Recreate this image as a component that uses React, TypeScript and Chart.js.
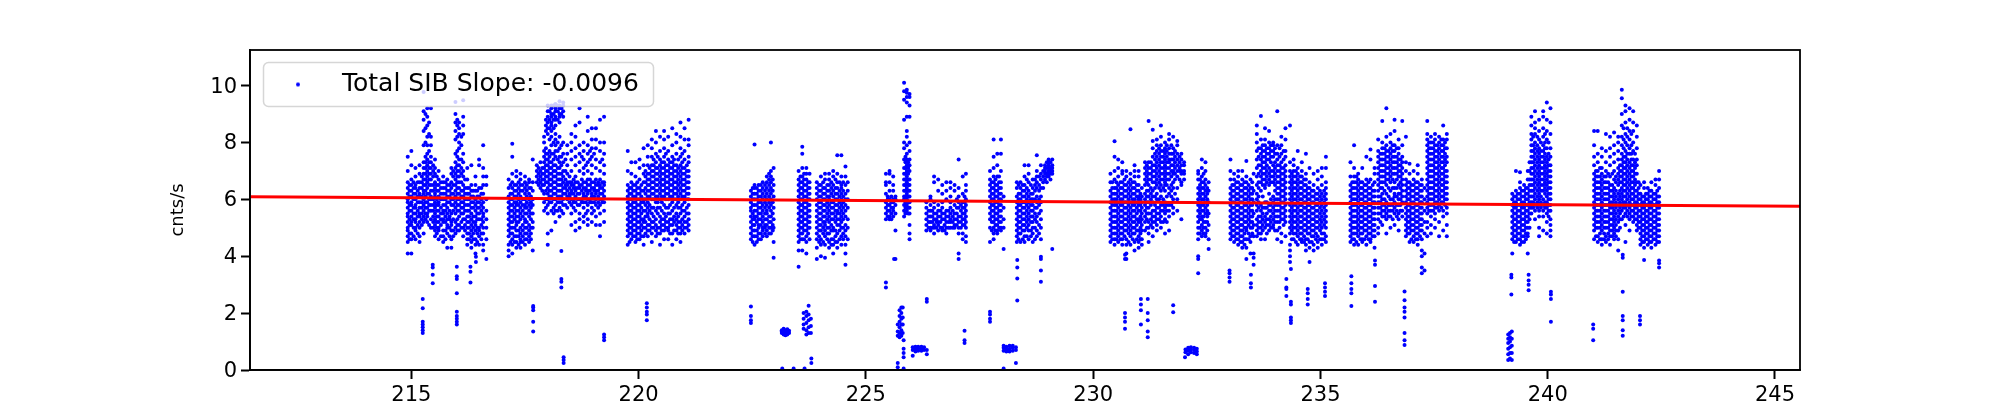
import React, { useEffect, useRef } from "react";
import { Chart, registerables } from "chart.js";

Chart.register(...registerables);

type Col = [number, number[]];

const seriesLabel = "Total SIB Slope: -0.0096";
const yTitle = "cnts/s";
const xTicks = [215, 220, 225, 230, 235, 240, 245];
const yTicks = [0, 2, 4, 6, 8, 10];
const fitX = [211.45, 245.55];
const fitY = [6.09, 5.76];

const obsA: Col[] = [
  [214.92,[4.1,4.5,4.7,4.9,5.0,5.2,5.4,5.5,5.7,5.9,6.0,6.2,6.4,6.6,7.0,7.5]],
  [215.0,[4.1,4.6,4.8,5.1,5.2,5.4,5.6,5.8,5.9,6.1,6.3,6.5,6.7,7.2,7.7]],
  [215.09,[4.6,4.9,5.0,5.2,5.3,5.5,5.7,5.8,6.0,6.2,6.4,6.5,6.8,7.1]],
  [215.18,[4.5,4.7,5.0,5.2,5.4,5.5,5.7,5.9,6.1,6.2,6.4,6.6,6.9,7.2]],
  [215.27,[4.8,5.2,5.4,5.6,5.8,6.0,6.2,6.3,6.5,6.7,6.9,7.1,7.3,7.9,8.4,8.8,9.1,9.77]],
  [215.35,[5.2,5.4,5.5,5.7,5.9,6.2,6.4,6.6,6.8,7.0,7.2,7.4,7.6,7.9,8.2,8.6,8.9,9.2]],
  [215.43,[5.0,5.3,5.6,5.8,6.0,6.1,6.3,6.5,6.7,6.9,7.1,7.3,7.5,7.9,8.2,9.2]],
  [215.52,[4.7,4.9,5.1,5.3,5.5,5.7,5.9,6.1,6.2,6.4,6.6,6.9,7.1,7.4]],
  [215.6,[4.6,4.9,5.0,5.2,5.4,5.6,5.8,5.9,6.1,6.3,6.5,6.7,7.0]],
  [215.7,[4.5,4.7,4.9,5.2,5.3,5.5,5.6,5.8,6.0,6.2,6.4,6.6,6.8]],
  [215.79,[4.3,4.8,5.0,5.1,5.3,5.5,5.7,5.9,6.1,6.3,6.5,6.7]],
  [215.88,[4.3,4.6,4.9,5.1,5.2,5.5,5.8,6.0,6.2,6.4,6.6,6.9,7.1]],
  [215.97,[4.8,5.0,5.2,5.5,5.7,5.9,6.1,6.3,6.5,6.7,6.9,7.1,7.3,7.6,8.1,8.4,8.7,9.0,9.42]],
  [216.05,[4.9,5.1,5.4,5.6,5.8,6.0,6.2,6.4,6.6,6.8,7.0,7.2,7.4,7.8,8.0,8.3,8.5,8.7]],
  [216.14,[4.7,5.0,5.3,5.5,5.7,5.9,6.1,6.3,6.5,6.8,7.0,7.3,7.6,8.3,8.6,8.9,9.48]],
  [216.23,[4.4,4.6,4.8,5.0,5.2,5.4,5.6,5.8,6.0,6.2,6.4,6.7,7.1]],
  [216.32,[4.3,4.5,4.7,4.9,5.1,5.3,5.5,5.7,5.9,6.1,6.3,6.5,7.2]],
  [216.41,[4.1,4.4,4.6,4.9,5.1,5.2,5.4,5.6,5.8,6.0,6.3,6.5,6.8]],
  [216.49,[4.4,4.7,4.9,5.0,5.3,5.5,5.7,5.9,6.1,6.4,7.2,7.4]],
  [216.58,[4.2,4.4,4.8,5.0,5.2,5.4,5.5,5.7,5.9,6.2,6.5,6.8,7.1,7.9]],
  [216.65,[3.9,4.6,5.0,5.3,5.6,6.0,6.5,6.8]],
];
const coreA: Col[] = [
  [214.96,[4.6,4.8,5.1,5.3,5.6,5.8,6.1,6.3,6.5]],[215.05,[4.7,5.0,5.3,5.5,5.7,6.0,6.2,6.4,6.6]],[215.14,[4.8,5.1,5.4,5.6,5.9,6.1,6.3,6.6]],
  [215.23,[5.1,5.3,5.5,5.7,5.9,6.1,6.4,6.6,6.8]],[215.31,[5.3,5.5,5.7,5.9,6.1,6.3,6.5,6.7,6.9,7.1,7.3,7.5,8.0,8.5,9.0]],[215.39,[5.1,5.6,5.8,6.0,6.2,6.5,6.7,6.9,7.1,7.3,7.7,8.3,8.7]],
  [215.48,[5.0,5.2,5.4,5.6,5.8,6.0,6.3,6.5,6.8,7.0,7.2]],[215.56,[4.8,5.0,5.2,5.4,5.6,5.8,6.0,6.3,6.5,6.8]],[215.65,[4.7,5.1,5.3,5.5,5.7,6.0,6.2,6.4,6.6]],
  [215.75,[4.6,4.9,5.2,5.4,5.6,5.8,6.0,6.2,6.4,6.6]],[215.84,[4.7,5.0,5.3,5.4,5.6,5.9,6.1,6.3,6.5]],[215.92,[4.7,4.9,5.3,5.6,5.8,6.0,6.2,6.5,6.8,7.0]],
  [216.01,[4.9,5.1,5.3,5.6,5.8,6.0,6.2,6.4,6.6,6.8,7.0,7.2,7.5,7.7,8.2,8.6,8.8]],[216.1,[5.0,5.2,5.5,5.7,5.9,6.1,6.3,6.6,6.9,7.1,7.4,7.9,8.2]],[216.18,[4.9,5.1,5.3,5.6,5.8,6.0,6.2,6.4,6.7]],
  [216.27,[4.6,4.8,5.0,5.2,5.4,5.6,5.8,6.0,6.2,6.4]],[216.36,[4.6,4.8,5.0,5.2,5.4,5.7,5.9,6.1,6.3]],[216.45,[4.5,4.8,5.0,5.3,5.5,5.7,5.9,6.1,6.3]],[216.54,[4.6,4.8,5.1,5.3,5.6,5.8,6.0,6.2,6.4]],
];
const obsB: Col[] = [
  [217.14,[4.0,4.2,4.4,4.7,4.9,5.1,5.3,5.5,5.7,5.9,6.1,6.4,6.7]],
  [217.22,[4.1,4.4,4.6,4.8,5.0,5.2,5.4,5.6,5.8,6.0,6.2,6.4,6.6,6.9,7.5,7.95]],
  [217.31,[4.3,4.5,4.7,4.9,5.1,5.2,5.4,5.6,5.8,5.9,6.1,6.3,6.5,6.8,7.0]],
  [217.4,[4.3,4.5,4.6,4.8,5.0,5.3,5.5,5.7,5.9,6.1,6.3,6.5,6.7,6.9]],
  [217.5,[4.4,4.6,4.8,5.0,5.2,5.3,5.5,5.7,5.8,6.0,6.2,6.4,6.6,6.8]],
  [217.59,[4.5,4.7,4.9,5.1,5.4,5.6,5.8,6.0,6.2,6.4,6.6,6.7]],
  [217.67,[4.2,5.0,5.2,5.5,5.8,6.0,6.3,6.6,7.4]],
];
const coreB: Col[] = [
  [217.18,[4.5,4.8,5.0,5.2,5.4,5.6,5.8,6.0,6.2,6.5]],[217.27,[4.5,4.7,5.0,5.3,5.5,5.7,5.9,6.1,6.3,6.5]],[217.36,[4.4,4.7,4.9,5.2,5.4,5.6,5.8,6.0,6.2,6.4,6.6]],
  [217.45,[4.5,4.7,4.9,5.1,5.4,5.6,5.8,6.0,6.3,6.5]],[217.54,[4.6,4.8,5.0,5.2,5.5,5.7,5.9,6.1,6.3,6.5]],[217.63,[4.6,4.8,5.0,5.3,5.5,5.7,5.9,6.1,6.4]],
];
const obsC: Col[] = [
  [217.76,[6.6,6.8,7.0,7.2]],
  [217.84,[6.4,6.6,6.8,7.0,7.3]],
  [217.92,[5.6,5.9,6.2,6.5,6.7,6.9,7.1,7.3,7.5,7.7,8.0,8.2]],
  [218.0,[4.4,4.8,5.5,5.8,6.0,6.2,6.4,6.6,6.8,7.0,7.2,7.4,7.6,8.3,8.5,8.7,8.9,9.1,9.3]],
  [218.08,[4.9,5.6,5.9,6.1,6.3,6.5,6.7,6.9,7.1,7.3,7.6,7.9,8.2,8.4,8.6,8.7,8.9,9.0,9.2,9.3]],
  [218.17,[5.2,5.6,5.8,6.0,6.2,6.4,6.6,6.8,7.0,7.2,7.5,7.7,7.9,8.1,8.3,8.6,8.8,8.9,9.1,9.2,9.35]],
  [218.26,[5.4,5.7,5.9,6.1,6.3,6.5,6.7,6.9,7.1,7.3,7.5,7.8,8.2,8.7,8.9,9.0,9.2,9.3,9.45]],
  [218.34,[5.5,5.8,6.0,6.2,6.4,6.6,6.8,7.0,7.3,7.6,8.0,8.9,9.1,9.3,9.4]],
  [218.43,[5.7,6.0,6.1,6.3,6.5,6.6,6.9,7.2,7.6,7.9]],
  [218.52,[5.1,5.5,5.8,6.0,6.2,6.3,6.5,6.6,7.0,7.4,7.7,8.0,8.3]],
  [218.61,[4.9,5.2,5.6,5.9,6.1,6.3,6.4,6.6,6.8,7.2,7.5,7.8,8.2,8.6]],
  [218.7,[5.0,5.3,5.5,5.8,6.0,6.2,6.4,6.5,7.0,7.3,7.6,7.9,8.7,9.2]],
  [218.79,[5.2,5.4,5.7,5.9,6.1,6.2,6.4,6.6,6.9,7.1,7.4,7.7,8.0]],
  [218.88,[5.1,5.3,5.6,5.8,6.0,6.2,6.3,6.5,6.7,7.0,7.3,7.6,7.9,8.4,8.9]],
  [218.97,[5.2,5.5,5.7,5.9,6.1,6.2,6.4,6.6,6.9,7.2,7.5,7.8,8.1,8.5]],
  [219.06,[5.1,5.4,5.8,6.0,6.2,6.3,6.5,6.7,7.1,7.4,7.8,8.1,8.5]],
  [219.15,[4.7,5.1,5.5,5.8,6.0,6.2,6.4,6.5,6.7,7.0,7.3,7.7,8.0,8.8]],
  [219.24,[5.2,5.6,5.9,6.1,6.3,6.5,6.6,6.9,7.2,7.6,8.0,8.9]],
];
const coreC: Col[] = [
  [217.8,[6.5,6.7,6.9,7.1]],[217.88,[6.3,6.5,6.7,6.9,7.1]],[217.96,[5.7,6.0,6.3,6.6,6.8,7.0,7.2,7.4,7.6,7.8,8.4,8.6,8.8]],[218.04,[5.9,6.1,6.3,6.5,6.7,6.9,7.1,7.3,7.5,7.7,8.1,8.5,8.8,9.1]],
  [218.13,[5.5,5.7,6.0,6.2,6.4,6.6,6.8,7.0,7.2,7.4,7.6,8.0,8.5,8.8,9.0,9.3]],[218.22,[5.6,5.9,6.1,6.3,6.5,6.7,6.9,7.1,7.4,7.7,8.0,8.8,9.1,9.3]],[218.3,[5.6,5.9,6.1,6.3,6.5,6.7,6.9,7.2,7.5,7.9,9.0,9.2]],
  [218.39,[5.8,6.2,6.4,6.5,6.7,7.0,7.4]],[218.48,[5.9,6.1,6.2,6.4,6.6,6.8]],[218.57,[5.7,5.9,6.0,6.2,6.4,6.5,6.7]],[218.66,[5.8,6.0,6.2,6.4,6.6]],[218.75,[5.9,6.0,6.3,6.5,6.7,7.5]],
  [218.84,[5.5,5.9,6.1,6.3,6.4,6.6,7.2]],[218.93,[5.9,6.0,6.3,6.5,6.7,7.4,7.7]],[219.02,[5.6,5.9,6.1,6.3,6.4,6.6,7.6]],[219.11,[5.7,5.9,6.1,6.3,6.5,6.6]],[219.2,[5.9,6.0,6.2,6.4,6.6,7.4]],
];
const obsD: Col[] = [
  [219.76,[4.4,4.7,4.9,5.1,5.3,5.5,5.7,5.9,6.1,6.3,6.5,7.0,7.7]],
  [219.84,[4.6,4.8,5.0,5.2,5.4,5.6,5.8,6.0,6.2,6.4,6.6,6.9,7.3]],
  [219.93,[4.5,4.7,4.9,5.1,5.3,5.5,5.7,5.9,6.1,6.3,6.5,6.8,7.3]],
  [220.02,[4.6,4.8,5.0,5.2,5.4,5.6,5.8,6.0,6.2,6.4,6.7,7.1,7.4]],
  [220.11,[4.4,4.7,5.0,5.2,5.3,5.6,5.9,6.0,6.3,6.6,6.9,7.2,7.8]],
  [220.2,[4.7,4.9,5.1,5.4,5.5,5.7,5.9,6.1,6.3,6.5,6.7,6.9,7.2,7.5,7.9]],
  [220.29,[4.5,4.8,5.0,5.2,5.5,5.7,6.0,6.2,6.4,6.6,6.8,7.0,7.2,7.5,7.8,8.1]],
  [220.38,[4.7,4.9,5.1,5.3,5.6,5.9,6.1,6.3,6.5,6.7,6.9,7.1,7.3,7.6,8.0,8.4]],
  [220.47,[4.4,4.8,5.0,5.2,5.4,5.7,6.0,6.2,6.4,6.6,6.8,7.0,7.2,7.4,7.7,8.2]],
  [220.56,[4.6,4.9,5.1,5.3,5.5,5.8,6.1,6.3,6.5,6.7,6.9,7.1,7.3,7.5,7.8,8.1,8.4]],
  [220.65,[4.6,4.9,5.0,5.2,5.5,5.7,6.0,6.2,6.4,6.6,6.8,7.0,7.2,7.4,7.7,8.2]],
  [220.74,[4.4,4.8,5.1,5.3,5.6,5.9,6.1,6.3,6.5,6.7,6.9,7.1,7.3,7.5,7.9,8.5]],
  [220.83,[4.6,4.9,5.1,5.3,5.5,5.8,6.0,6.2,6.4,6.6,6.8,7.0,7.2,7.6,8.0,8.3]],
  [220.92,[4.5,4.8,5.0,5.2,5.5,5.7,6.0,6.2,6.4,6.6,6.8,7.0,7.2,7.5,7.8,8.2,8.7]],
  [221.01,[4.8,5.0,5.2,5.4,5.6,5.9,6.1,6.3,6.5,6.7,6.9,7.1,7.4,7.7,8.1,8.5]],
  [221.1,[4.9,5.1,5.3,5.5,5.8,6.0,6.2,6.4,6.6,6.8,7.0,7.3,7.5,7.9,8.1,8.8]],
];
const coreD: Col[] = [
  [219.8,[4.5,4.8,5.0,5.2,5.4,5.6,5.8,6.0,6.2,6.4]],[219.88,[4.7,4.9,5.1,5.3,5.5,5.7,5.9,6.1,6.3,6.5]],[219.97,[4.6,4.8,5.0,5.2,5.4,5.6,5.8,6.0,6.2,6.4,6.6]],
  [220.06,[4.7,4.9,5.1,5.3,5.5,5.7,5.9,6.1,6.3,6.5]],[220.15,[4.8,5.0,5.2,5.4,5.6,5.8,6.0,6.2,6.4,6.6,6.8,7.0]],[220.24,[4.9,5.1,5.3,5.6,5.8,6.1,6.3,6.5,6.7,6.9,7.1]],
  [220.33,[5.0,5.2,5.4,5.7,6.0,6.2,6.4,6.6,6.8,7.0,7.2,7.4]],[220.42,[4.8,5.0,5.5,5.7,5.9,6.1,6.3,6.5,6.7,6.9,7.1,7.5]],[220.51,[4.9,5.1,5.3,5.6,5.9,6.1,6.3,6.5,6.7,6.9,7.1,7.3]],
  [220.6,[5.0,5.2,5.4,5.7,6.0,6.2,6.4,6.6,6.8,7.0,7.2,7.6]],[220.69,[4.8,5.1,5.3,5.5,5.8,6.1,6.3,6.5,6.7,6.9,7.1,7.3]],[220.78,[4.9,5.2,5.4,5.7,6.0,6.2,6.4,6.6,6.8,7.0,7.2,7.4]],
  [220.87,[4.8,5.0,5.2,5.4,5.7,5.9,6.1,6.3,6.5,6.7,6.9,7.1,7.4]],[220.96,[4.9,5.1,5.3,5.6,5.8,6.1,6.3,6.5,6.7,6.9,7.1,7.3,7.6]],[221.06,[5.0,5.2,5.5,5.7,6.0,6.2,6.4,6.6,6.8,7.0,7.2]],
];
const obsE: Col[] = [
  [222.47,[4.6,4.8,5.0,5.2,5.4,5.6,5.7,5.9,6.1,6.3]],
  [222.55,[4.4,4.7,4.9,5.1,5.3,5.4,5.6,5.8,6.0,6.2,6.4,6.5,7.93]],
  [222.64,[4.6,4.8,5.0,5.1,5.3,5.5,5.7,5.9,6.1,6.3,6.5]],
  [222.73,[4.7,4.9,5.0,5.2,5.4,5.6,5.8,6.0,6.2,6.4,6.6]],
  [222.82,[4.7,4.9,5.1,5.3,5.5,5.6,5.8,6.0,6.2,6.4,6.6,6.8]],
  [222.91,[4.8,5.0,5.2,5.4,5.6,5.8,6.0,6.2,6.4,6.6,6.8,7.0,8.0]],
  [222.97,[3.95,4.5,5.0,5.3,5.7,6.1,6.5,7.1]],
];
const coreE: Col[] = [
  [222.51,[4.5,4.7,4.9,5.1,5.3,5.5,5.8,6.0,6.2,6.4]],[222.6,[4.5,4.7,4.9,5.2,5.4,5.6,5.8,6.0,6.2,6.4]],[222.69,[4.6,4.8,5.1,5.3,5.5,5.7,5.9,6.1,6.3,6.5]],
  [222.78,[4.8,5.0,5.1,5.3,5.5,5.7,5.9,6.1,6.3,6.5]],[222.87,[4.8,5.0,5.2,5.4,5.7,5.9,6.1,6.3,6.5,6.7,6.9]],[222.95,[4.9,5.1,5.5,5.9,6.3,6.7]],
];
const obsF: Col[] = [
  [223.52,[3.63,4.2,4.5,4.7,4.9,5.1,5.3,5.5,5.7,5.9,6.1,6.3,6.5,6.7,7.0]],
  [223.6,[4.2,4.6,4.8,5.0,5.2,5.4,5.6,5.8,6.0,6.2,6.4,6.6,6.8,7.1,7.6,7.85]],
  [223.69,[4.1,4.5,4.7,4.9,5.1,5.3,5.5,5.7,5.9,6.1,6.3,6.5,6.7,6.9,7.1]],
  [223.76,[4.6,5.0,5.2,5.4,5.6,5.8,6.0,6.2,6.4,6.6,6.9]],
];
const obsG: Col[] = [
  [223.92,[3.9,4.3,4.6,4.8,5.0,5.2,5.4,5.6,5.8,6.0,6.2,6.4,6.6]],
  [224.01,[4.0,4.4,4.6,4.9,5.1,5.3,5.5,5.7,5.9,6.1,6.3,6.5,6.8]],
  [224.1,[3.95,4.4,4.7,4.9,5.1,5.2,5.4,5.6,5.8,6.0,6.2,6.4,6.7,6.9]],
  [224.19,[4.3,4.5,4.8,5.0,5.2,5.4,5.6,5.8,6.0,6.1,6.3,6.5,6.7,6.9]],
  [224.28,[4.1,4.4,4.6,4.9,5.0,5.3,5.5,5.7,5.9,6.1,6.3,6.5,6.8,7.0]],
  [224.37,[4.3,4.5,4.8,5.1,5.3,5.5,5.6,5.8,6.0,6.2,6.4,6.6,6.9,7.55]],
  [224.46,[4.4,4.7,5.0,5.2,5.4,5.6,5.8,6.0,6.2,6.4,6.5,6.8,7.55]],
  [224.55,[3.7,4.1,4.4,4.7,4.9,5.1,5.4,5.6,5.8,6.0,6.2,6.5,6.8,7.15]],
  [224.6,[4.6,5.0,5.3,5.7,6.0,6.3,6.6]],
];
const coreFG: Col[] = [
  [223.56,[4.6,4.8,5.0,5.2,5.4,5.6,5.8,6.0,6.2,6.4,6.6,6.8]],[223.64,[4.6,4.9,5.1,5.3,5.5,5.7,5.9,6.1,6.3,6.5,6.7,6.9]],[223.73,[4.8,5.0,5.2,5.4,5.6,5.8,6.0,6.2,6.4,6.6]],
  [223.97,[4.5,4.7,4.9,5.1,5.3,5.5,5.7,5.9,6.1,6.3,6.5]],[224.06,[4.5,4.8,5.0,5.2,5.4,5.6,5.8,6.0,6.2,6.4,6.6]],[224.15,[4.6,4.8,5.0,5.3,5.5,5.7,5.9,6.1,6.3,6.5]],
  [224.24,[4.4,4.6,4.9,5.1,5.3,5.5,5.7,5.9,6.2,6.4,6.6]],[224.33,[4.5,4.7,4.9,5.2,5.4,5.6,5.8,6.0,6.2,6.4,6.7]],[224.42,[4.6,4.9,5.1,5.3,5.5,5.7,5.9,6.1,6.3,6.6]],[224.5,[4.6,4.8,5.0,5.3,5.5,5.7,5.9,6.1,6.3,6.6]],
];
const obsH: Col[] = [
  [225.44,[5.3,5.5,5.7,5.9,6.2,6.5,6.6,6.9]],
  [225.52,[5.3,5.4,5.6,5.8,6.0,6.3,6.6,6.9,7.0]],
  [225.6,[5.4,5.6,5.7,5.9,6.0,6.3,6.5,6.8]],
  [225.65,[4.9,5.5,5.8,6.0,6.1,3.9]],
];
const obsI: Col[] = [
  [225.84,[5.4,5.6,5.8,6.0,6.1,6.3,6.5,6.7,6.9,7.1,7.4,7.8,8.0,8.8,9.5,9.8,10.1]],
  [225.9,[5.6,5.8,6.0,6.2,6.4,6.6,6.8,7.0,7.2,7.4,7.6,7.9,8.2,8.4,8.9,9.4,9.6,9.75,9.85]],
  [225.96,[4.6,4.8,5.1,5.5,5.7,5.9,6.1,6.3,6.5,6.7,7.0,7.2,7.4,7.7,8.0,8.9,9.3,9.6,9.7]],
];
const coreHI: Col[] = [
  [225.48,[5.4,5.6,5.8,6.0,6.1]],[225.56,[5.3,5.5,5.7,5.9,6.1]],[225.87,[5.5,5.7,5.9,6.1,6.3,6.5,6.7,6.9,7.1,7.3,7.5]],[225.93,[5.5,5.7,5.9,6.1,6.3,6.5,6.7,6.9,7.1,7.3]],
];
const obsJ: Col[] = [
  [226.33,[4.9,5.1,5.3,5.5,5.7,5.9]],
  [226.42,[4.9,5.0,5.2,5.4,5.6,5.8,6.0,6.1]],
  [226.5,[4.8,5.0,5.1,5.3,5.5,5.7,5.9,6.6,6.8]],
  [226.59,[4.9,5.1,5.2,5.4,5.6,5.8,6.3,6.7]],
  [226.68,[4.9,5.0,5.3,5.5,5.7,5.9,6.2,6.5]],
  [226.77,[4.8,5.0,5.2,5.4,5.6,6.0,6.3,6.6]],
  [226.86,[5.0,5.2,5.3,5.5,5.7,5.9,6.1,6.4,6.6]],
  [226.95,[5.0,5.1,5.3,5.5,5.8,6.3,6.5]],
  [227.04,[3.9,4.1,4.8,5.0,5.2,5.4,5.7,5.9,6.1,6.4,7.4]],
  [227.13,[4.6,4.8,5.1,5.3,5.5,5.7,5.9,6.2,6.8]],
  [227.2,[4.5,4.7,5.0,5.2,5.4,5.6,5.8,6.0,6.3,6.5,6.9]],
];
const coreJ: Col[] = [
  [226.38,[5.0,5.2,5.4,5.6]],[226.46,[5.0,5.2,5.4,5.6]],[226.55,[5.0,5.2,5.3,5.5]],[226.64,[5.0,5.2,5.4,5.6]],[226.73,[4.9,5.1,5.3,5.5]],[226.82,[5.0,5.2,5.4,5.6]],[226.91,[5.0,5.2,5.4,5.6]],[227.0,[5.1,5.3,5.5,5.7,6.0]],[227.09,[5.0,5.2,5.4,5.6,5.8]],[227.17,[5.1,5.3,5.5,5.7,5.9,6.1]],
];
const obsK: Col[] = [
  [227.73,[4.5,5.0,5.3,5.5,5.7,5.9,6.1,6.3,6.5,6.7,7.0]],
  [227.81,[4.6,4.8,5.0,5.2,5.4,5.6,5.8,6.0,6.2,6.4,6.6,6.8,7.1,7.5,8.1]],
  [227.89,[4.8,4.9,5.1,5.3,5.5,5.7,5.9,6.1,6.3,6.5,6.8,7.2,7.6]],
  [227.97,[4.9,5.0,5.2,5.4,5.6,5.8,6.0,6.2,6.4,6.6,7.0,7.6,8.1]],
  [228.03,[4.25,5.0,5.3,5.7,6.1]],
];
const obsL: Col[] = [
  [228.32,[4.5,4.7,4.9,5.1,5.3,5.5,5.7,5.9,6.1,6.4,6.6]],
  [228.4,[4.5,4.8,5.0,5.2,5.4,5.6,5.8,6.0,6.2,6.4,6.6]],
  [228.49,[4.5,4.7,4.9,5.1,5.3,5.5,5.7,5.9,6.1,6.3,6.5,6.8,7.2]],
  [228.58,[4.6,4.9,5.1,5.3,5.5,5.7,5.9,6.1,6.3,6.6,6.9,7.2]],
  [228.67,[4.5,4.8,5.0,5.2,5.4,5.6,5.8,6.0,6.2,6.4,6.7]],
  [228.76,[4.7,4.9,5.2,5.4,5.7,5.9,6.1,6.4,6.6,6.8,7.0,7.55]],
  [228.85,[4.6,5.0,5.3,5.6,5.9,6.1,6.4,6.7,6.9,7.2]],
  [228.94,[6.7,6.9,7.0,7.1,7.2]],
  [229.02,[6.8,6.9,7.0,7.1,7.2,7.3,7.4]],
  [229.1,[6.9,7.0,7.1,7.2,7.4]],
];
const coreKL: Col[] = [
  [227.77,[4.9,5.2,5.4,5.6,5.8,6.0,6.2,6.4,6.6]],[227.85,[4.9,5.1,5.3,5.5,5.7,5.9,6.1,6.3,6.5,6.7]],[227.93,[5.0,5.2,5.4,5.6,5.8,6.0,6.2,6.4,6.6,6.8]],
  [228.36,[4.6,4.8,5.0,5.2,5.4,5.6,5.8,6.0,6.2,6.5]],[228.45,[4.6,4.9,5.1,5.3,5.5,5.7,5.9,6.1,6.3,6.5]],[228.54,[4.7,5.0,5.2,5.4,5.6,5.8,6.0,6.2,6.4,6.7]],[228.63,[4.7,4.9,5.2,5.4,5.6,5.8,6.0,6.2,6.5]],
  [228.72,[4.6,5.0,5.3,5.5,5.7,6.0,6.3,6.5,6.7]],[228.81,[4.8,5.1,5.5,5.8,6.0,6.3,6.5,6.8]],[228.9,[6.4,6.6,6.8,7.0]],[228.98,[6.6,6.8,6.9,7.1,7.3]],[229.06,[6.7,6.9,7.0,7.1,7.3]],
];
const obsM: Col[] = [
  [230.38,[4.5,4.7,4.9,5.1,5.3,5.5,5.7,5.9,6.1,6.3,6.6,6.9]],
  [230.47,[4.4,4.6,4.8,5.0,5.2,5.4,5.6,5.8,6.0,6.2,6.4,6.7,7.0,7.5,8.04]],
  [230.55,[4.5,4.7,4.9,5.1,5.3,5.5,5.7,5.9,6.1,6.3,6.5,6.8,7.1,7.4]],
  [230.64,[4.4,4.6,4.8,5.0,5.2,5.4,5.6,5.8,6.0,6.2,6.4,6.6,6.9,7.0,7.3]],
  [230.73,[3.9,4.1,4.4,4.6,4.9,5.1,5.3,5.5,5.7,5.9,6.1,6.3,6.5,6.8,7.0]],
  [230.82,[4.4,4.7,4.9,5.1,5.3,5.5,5.7,5.9,6.1,6.3,6.5,6.7,6.9,8.46]],
  [230.91,[4.2,4.5,4.8,5.0,5.2,5.4,5.6,5.8,6.0,6.2,6.4,6.6,6.8,7.0,7.2]],
  [231.0,[4.3,4.5,4.7,4.9,5.2,5.3,5.6,5.8,6.0,6.1,6.3,6.5,6.8,7.0]],
  [231.07,[4.4,4.6,4.9,5.1,5.3,5.5,5.7,5.9,6.1,6.4]],
];
const coreM: Col[] = [
  [230.42,[4.6,4.8,5.0,5.2,5.4,5.6,5.8,6.0,6.2,6.4,6.6]],[230.51,[4.6,4.8,5.0,5.2,5.4,5.6,5.8,6.0,6.2,6.4,6.6]],[230.6,[4.6,4.8,5.0,5.2,5.4,5.6,5.8,6.0,6.2,6.4,6.6]],
  [230.69,[4.7,4.9,5.1,5.3,5.5,5.7,5.9,6.1,6.3,6.5,6.7]],[230.78,[4.5,4.8,5.0,5.2,5.4,5.6,5.8,6.0,6.2,6.4,6.6]],[230.87,[4.6,4.8,5.0,5.2,5.4,5.6,5.8,6.0,6.2,6.4,6.6]],
  [230.96,[4.6,4.9,5.1,5.3,5.5,5.7,5.9,6.1,6.3,6.5]],[231.04,[4.6,4.8,5.0,5.2,5.4,5.6,5.8,6.0,6.2]],
];
const obsN: Col[] = [
  [231.14,[4.9,5.2,5.4,5.6,5.8,6.0,6.2,6.5,6.7,6.9,7.1,7.3]],
  [231.22,[4.5,4.8,5.0,5.2,5.5,5.7,5.9,6.1,6.3,6.5,6.7,6.9,7.1,7.3,8.75]],
  [231.31,[4.7,5.0,5.2,5.4,5.6,5.9,6.1,6.3,6.6,6.8,7.0,7.2,7.5,7.8,8.05,8.45]],
  [231.4,[4.9,5.1,5.3,5.5,5.7,6.0,6.2,6.5,6.7,6.9,7.1,7.3,7.5,7.7,7.9,8.1]],
  [231.49,[5.0,5.2,5.4,5.6,5.8,6.1,6.3,6.5,6.7,6.9,7.1,7.3,7.5,7.7,7.9,8.2,8.6]],
  [231.58,[4.8,5.3,5.5,5.7,5.9,6.3,6.5,6.6,6.8,7.0,7.2,7.4,7.6,7.8,8.0]],
  [231.67,[4.9,5.4,5.6,5.8,6.2,6.4,6.7,6.9,7.1,7.3,7.4,7.6,7.8,8.1,8.3]],
  [231.76,[5.5,5.7,6.0,6.4,6.6,6.9,7.0,7.2,7.4,7.6,7.8,8.2]],
  [231.85,[5.6,6.0,6.4,6.8,7.0,7.2,7.4,7.6,7.9,8.05]],
  [231.94,[5.3,6.5,6.6,6.9,7.0,7.2,7.4,7.6]],
  [232.0,[6.7,6.9,7.0,7.2,7.3]],
];
const coreN: Col[] = [
  [231.18,[5.0,5.3,5.5,5.7,5.9,6.1,6.3,6.6,6.8,7.0,7.2]],[231.27,[5.1,5.3,5.5,5.8,6.0,6.2,6.4,6.7,6.9,7.1,7.3]],[231.36,[5.2,5.4,5.6,5.8,6.1,6.4,6.6,6.8,7.0,7.2,7.4,7.6]],
  [231.45,[5.3,5.5,5.7,6.0,6.4,6.6,6.8,7.0,7.2,7.4,7.6,7.8]],[231.54,[5.2,5.6,5.8,6.0,6.4,6.7,6.9,7.1,7.3,7.5,7.7]],[231.62,[5.2,5.6,5.8,6.1,6.5,6.7,6.9,7.1,7.3,7.5,7.7,7.9]],
  [231.72,[5.8,6.1,6.3,6.5,6.8,7.0,7.2,7.4,7.6,7.9]],[231.8,[6.2,6.7,6.9,7.1,7.3,7.5,7.7]],[231.9,[6.7,7.0,7.1,7.3,7.5]],
];
const obsO: Col[] = [
  [232.31,[3.4,3.9,4.0,4.6,4.8,5.0,5.2,5.4,5.6,5.8,6.0,6.2,6.4,6.7,6.9,7.0]],
  [232.39,[4.7,4.9,5.1,5.3,5.4,5.6,5.8,6.0,6.2,6.4,6.6,6.8,7.1,7.4]],
  [232.47,[4.7,4.8,5.0,5.2,5.5,5.7,5.9,6.1,6.3,6.5,6.7,7.0,7.3]],
  [232.54,[4.25,4.6,5.1,5.5,5.9,6.3,6.6]],
];
const obsP: Col[] = [
  [233.02,[4.6,4.8,5.0,5.2,5.4,5.6,5.8,6.0,6.2,6.4,6.7,7.0,7.4]],
  [233.1,[4.5,4.7,4.9,5.1,5.3,5.5,5.7,5.9,6.1,6.3,6.5,6.7,6.9]],
  [233.19,[4.4,4.6,4.8,5.0,5.2,5.4,5.6,5.8,6.0,6.2,6.4,6.6,6.8,7.0]],
  [233.28,[4.3,4.5,4.7,4.9,5.1,5.3,5.5,5.7,5.9,6.1,6.3,6.5,6.7,7.0]],
  [233.37,[3.9,4.3,4.6,4.9,5.0,5.2,5.4,5.6,5.8,6.0,6.2,6.4,6.6,6.8,7.35]],
  [233.46,[4.1,4.5,4.7,5.0,5.2,5.4,5.6,5.8,6.0,6.2,6.4,6.7]],
  [233.53,[3.95,3.7,4.1,4.7,5.1,5.5,5.9,6.3,6.9]],
];
const coreOP: Col[] = [
  [232.35,[4.8,5.0,5.3,5.5,5.7,5.9,6.1,6.3,6.5,6.7]],[232.43,[4.8,5.0,5.2,5.4,5.6,5.8,6.0,6.2,6.4,6.6,6.9]],[232.51,[4.9,5.2,5.4,5.6,5.8,6.0,6.2,6.4]],
  [233.06,[4.7,4.9,5.1,5.3,5.5,5.7,5.9,6.1,6.3,6.5]],[233.15,[4.6,4.8,5.0,5.2,5.4,5.6,5.8,6.0,6.2,6.4,6.6]],[233.24,[4.5,4.7,4.9,5.1,5.3,5.5,5.7,5.9,6.1,6.3,6.5]],
  [233.33,[4.4,4.6,4.8,5.0,5.2,5.4,5.6,5.8,6.0,6.2,6.4,6.6]],[233.42,[4.6,4.8,5.1,5.3,5.5,5.7,5.9,6.1,6.3,6.5]],[233.5,[4.8,5.0,5.2,5.4,5.6,5.8,6.0,6.2,6.4,6.6]],
];
const obsQ: Col[] = [
  [233.6,[4.7,4.9,5.1,5.3,5.6,5.8,6.0,6.2,6.5,6.8,7.1,7.4,7.7,8.0,8.3,8.6]],
  [233.69,[4.6,4.8,5.0,5.2,5.4,5.6,5.8,6.3,6.6,6.8,7.0,7.2,7.4,7.6,7.8,8.1,8.93]],
  [233.78,[4.6,5.0,5.2,5.4,5.7,5.9,6.4,6.5,6.7,6.9,7.1,7.3,7.5,7.7,7.9,8.1,8.5]],
  [233.87,[4.9,5.1,5.3,5.6,5.8,6.2,6.5,6.7,6.9,7.1,7.4,7.6,7.8,8.0,8.4]],
  [233.96,[5.0,5.1,5.3,5.5,5.7,5.9,6.1,6.6,6.8,7.0,7.2,7.5,7.7,7.9,8.0]],
  [234.05,[4.6,4.9,5.2,5.4,5.6,5.8,6.0,6.2,6.4,6.6,6.8,7.0,7.2,7.4,7.6,7.9,9.1]],
  [234.14,[4.5,4.8,5.3,5.5,5.7,5.9,6.1,6.3,6.5,6.7,6.9,7.1,7.3,7.6,7.9,8.2]],
  [234.23,[4.7,5.2,5.4,5.6,5.8,6.0,6.2,6.4,6.6,6.8,7.0,7.2,7.5,7.7,8.1,8.5]],
];
const coreQ: Col[] = [
  [233.64,[4.8,5.0,5.2,5.4,5.7,5.9,6.1,6.4,6.6,6.9,7.2,7.5,7.8]],[233.73,[4.9,5.1,5.3,5.5,5.7,6.1,6.5,6.7,6.9,7.1,7.3,7.5,7.7,7.9]],[233.82,[4.8,5.1,5.3,5.5,5.7,5.9,6.6,6.8,7.0,7.2,7.4,7.6,7.8]],
  [233.91,[5.0,5.2,5.4,5.6,5.8,6.0,6.6,6.8,7.0,7.3,7.5,7.7,7.9]],[234.0,[4.9,5.2,5.4,5.6,5.8,6.0,6.3,6.5,6.7,6.9,7.1,7.3,7.6,7.8]],[234.1,[5.0,5.2,5.4,5.6,5.8,6.0,6.2,6.4,6.6,6.8,7.0,7.2,7.5,7.8]],[234.19,[5.1,5.3,5.5,5.7,5.9,6.1,6.3,6.5,6.7,6.9,7.1,7.4,7.7]],
];
const obsR: Col[] = [
  [234.33,[3.8,4.0,4.2,4.4,4.8,5.0,5.2,5.4,5.6,5.8,6.0,6.2,6.4,6.6,6.8,7.0,7.3,8.6]],
  [234.41,[4.6,4.8,5.0,5.2,5.4,5.6,5.8,6.0,6.2,6.4,6.6,6.8,7.0,7.2,7.4]],
  [234.5,[4.4,4.7,4.9,5.1,5.3,5.5,5.7,5.9,6.1,6.3,6.5,6.7,6.9,7.1,7.7]],
  [234.59,[4.5,4.6,4.8,5.0,5.2,5.4,5.6,5.8,6.0,6.2,6.4,6.6,6.8,7.0,7.3]],
  [234.68,[4.2,4.4,4.6,4.9,5.1,5.3,5.5,5.7,5.9,6.1,6.3,6.5,6.7,6.9,7.6]],
  [234.76,[3.8,4.3,4.5,4.8,5.0,5.2,5.4,5.6,5.8,6.0,6.2,6.4,6.6,7.1]],
  [234.85,[4.2,4.4,4.7,4.9,5.1,5.3,5.5,5.7,5.9,6.1,6.3,6.5,6.9]],
  [234.94,[4.3,4.5,4.7,5.0,5.2,5.4,5.6,5.8,6.0,6.2,6.4,6.7,7.0]],
  [235.03,[4.4,4.6,4.8,5.0,5.2,5.4,5.6,5.8,6.0,6.2,6.5,6.8,7.1]],
  [235.12,[4.5,4.7,5.0,5.2,5.4,5.6,5.8,6.0,6.2,6.4,6.6,7.1,7.5]],
];
const coreR: Col[] = [
  [234.37,[4.6,4.9,5.1,5.3,5.5,5.7,5.9,6.1,6.3,6.5,6.7,6.9]],[234.46,[4.5,4.8,5.0,5.2,5.4,5.6,5.8,6.0,6.2,6.4,6.6,6.8,7.0]],[234.55,[4.6,4.8,5.0,5.2,5.4,5.6,5.8,6.0,6.2,6.4,6.6,6.8]],
  [234.64,[4.5,4.7,4.9,5.1,5.3,5.5,5.7,5.9,6.1,6.3,6.5,6.7]],[234.72,[4.6,4.8,5.0,5.2,5.4,5.6,5.8,6.0,6.2,6.4]],[234.81,[4.5,4.7,4.9,5.1,5.3,5.5,5.7,5.9,6.1,6.3]],
  [234.9,[4.6,4.8,5.0,5.2,5.4,5.6,5.8,6.0,6.2]],[234.99,[4.6,4.9,5.1,5.3,5.5,5.7,5.9,6.1,6.3]],[235.08,[4.6,4.8,5.1,5.3,5.5,5.7,5.9,6.1,6.3]],
];
const obsS: Col[] = [
  [235.66,[4.5,4.7,4.9,5.1,5.3,5.5,5.7,5.9,6.1,6.3,6.5,6.8,7.3]],
  [235.74,[4.4,4.6,4.8,5.0,5.2,5.4,5.6,5.8,6.0,6.2,6.4,6.6,6.8,7.1,7.9]],
  [235.83,[4.4,4.7,4.9,5.1,5.3,5.5,5.7,5.9,6.1,6.3,6.5,6.7,6.9]],
  [235.92,[4.5,4.6,4.8,5.0,5.2,5.4,5.6,5.8,6.0,6.2,6.4,6.6,7.1]],
  [236.01,[4.4,4.7,4.9,5.1,5.3,5.5,5.7,5.9,6.1,6.3,6.5,6.7,7.5]],
  [236.1,[4.5,4.6,4.8,5.0,5.2,5.4,5.6,5.8,6.0,6.2,6.4,6.7,7.4,7.75]],
  [236.19,[4.3,4.7,4.9,5.1,5.3,5.5,5.7,5.9,6.1,6.3,6.6,6.9,7.1]],
];
const coreS: Col[] = [
  [235.7,[4.6,4.8,5.0,5.2,5.4,5.6,5.8,6.0,6.2,6.4,6.6]],[235.79,[4.5,4.8,5.0,5.2,5.4,5.6,5.8,6.0,6.2,6.4,6.6,6.8]],[235.88,[4.6,4.8,5.0,5.2,5.4,5.6,5.8,6.0,6.2,6.4,6.6]],
  [235.97,[4.6,4.9,5.1,5.3,5.5,5.7,5.9,6.1,6.3,6.5]],[236.06,[4.6,4.8,5.0,5.2,5.4,5.6,5.8,6.0,6.2,6.4,6.6]],[236.15,[4.7,4.9,5.1,5.3,5.5,5.7,5.9,6.1,6.3,6.5]],
];
const obsT: Col[] = [
  [236.27,[4.8,5.0,5.3,5.5,5.7,5.9,6.1,6.3,6.5,6.7,6.9,7.1,7.3,7.5,7.7,8.1]],
  [236.36,[5.1,5.4,5.6,5.8,6.0,6.2,6.4,6.6,6.8,7.0,7.2,7.4,7.6,7.8,8.0,8.75]],
  [236.45,[4.8,5.3,5.5,5.7,5.9,6.2,6.5,6.7,6.9,7.1,7.3,7.5,7.7,7.9,8.2,9.2]],
  [236.54,[5.0,5.4,5.6,5.8,6.0,6.3,6.6,6.8,7.0,7.2,7.4,7.6,7.8,8.0,8.3]],
  [236.63,[5.1,5.5,5.7,5.9,6.1,6.2,6.4,6.6,6.9,7.1,7.3,7.5,7.7,7.9,8.4,8.8]],
  [236.72,[4.9,5.3,5.5,5.8,6.0,6.2,6.5,6.8,7.0,7.2,7.4,7.6,7.8,8.1]],
  [236.8,[5.4,5.6,5.9,6.1,6.3,6.5,6.7,6.9,7.1,7.3,7.5,7.9,8.75]],
];
const coreT: Col[] = [
  [236.32,[5.2,5.5,5.7,5.9,6.1,6.4,6.6,6.8,7.0,7.2,7.4,7.6]],[236.41,[5.4,5.6,5.8,6.0,6.3,6.6,6.8,7.0,7.2,7.4,7.6,7.8]],[236.5,[5.4,5.6,5.8,6.1,6.4,6.7,6.9,7.1,7.3,7.5,7.7]],
  [236.59,[5.3,5.6,5.8,6.0,6.4,6.7,6.9,7.1,7.3,7.5,7.7,7.9]],[236.68,[5.4,5.6,5.8,6.1,6.4,6.7,6.9,7.1,7.3,7.5,7.8]],[236.76,[5.6,5.8,6.0,6.2,6.4,6.6,6.8,7.0,7.2,7.4]],
];
const obsU: Col[] = [
  [236.88,[4.7,4.9,5.1,5.3,5.5,5.7,5.9,6.1,6.3,6.5,6.7,7.0,7.3,8.2]],
  [236.96,[4.5,4.8,5.0,5.2,5.4,5.6,5.8,6.0,6.2,6.4,6.6,6.9,7.25]],
  [237.05,[4.5,4.7,4.9,5.1,5.3,5.5,5.7,5.9,6.1,6.3,6.5,6.7,7.0]],
  [237.14,[4.4,4.6,4.8,5.0,5.2,5.4,5.6,5.8,6.0,6.2,6.4,6.6,6.9,7.2]],
  [237.23,[3.4,3.6,4.0,4.2,4.6,4.9,5.1,5.3,5.5,5.7,5.9,6.1,6.3,6.5,6.7]],
  [237.29,[3.5,4.1,4.8,5.2,5.6,6.0,6.4]],
];
const obsV: Col[] = [
  [237.35,[4.7,5.0,5.2,5.5,5.7,5.9,6.1,6.3,6.5,6.7,6.9,7.1,7.3,7.5,7.7,7.9,8.1,8.3,8.75]],
  [237.43,[4.8,5.1,5.4,5.6,5.8,6.0,6.2,6.4,6.6,6.8,7.0,7.2,7.4,7.6,7.8,8.0,8.2]],
  [237.52,[5.0,5.3,5.5,5.7,5.9,6.1,6.3,6.5,6.7,6.9,7.1,7.3,7.5,7.7,7.9,8.1,8.3]],
  [237.61,[4.7,5.2,5.6,5.8,6.0,6.2,6.4,6.6,6.8,7.0,7.2,7.4,7.6,7.8,8.0,8.2]],
  [237.7,[4.9,5.4,5.6,5.9,6.1,6.3,6.5,6.7,6.9,7.1,7.3,7.5,7.7,7.9,8.1,8.6]],
  [237.78,[4.7,5.1,5.5,5.7,6.0,6.2,6.4,6.6,6.8,7.0,7.3,7.5,7.8,8.1,8.3]],
];
const coreUV: Col[] = [
  [236.92,[4.8,5.0,5.2,5.4,5.6,5.8,6.0,6.2,6.4,6.6]],[237.0,[4.6,4.9,5.1,5.3,5.5,5.7,5.9,6.1,6.3,6.5]],[237.1,[4.6,4.8,5.0,5.2,5.4,5.6,5.8,6.0,6.2,6.4,6.6]],[237.19,[4.7,4.9,5.1,5.3,5.5,5.7,5.9,6.1,6.3,6.5]],
  [237.39,[5.6,5.8,6.0,6.2,6.4,6.6,6.8,7.0,7.2,7.4,7.6,7.8,8.0]],[237.48,[5.6,5.8,6.0,6.2,6.4,6.6,6.8,7.0,7.2,7.4,7.6,7.8,8.0]],[237.57,[5.7,5.9,6.1,6.3,6.5,6.7,6.9,7.1,7.3,7.5,7.7,7.9]],[237.66,[5.7,5.9,6.1,6.3,6.5,6.7,6.9,7.1,7.3,7.5,7.7,7.9,8.1]],[237.74,[5.8,6.0,6.2,6.4,6.6,6.8,7.0,7.2,7.4,7.6,7.8,8.0]],
];
const obsW: Col[] = [
  [239.22,[4.1,4.6,4.8,5.0,5.2,5.4,5.6,5.8,6.0,6.2]],
  [239.3,[4.5,4.7,4.9,5.1,5.3,5.5,5.7,5.9,6.1,6.3,7.0]],
  [239.39,[4.4,4.6,4.8,5.0,5.2,5.4,5.6,5.8,6.0,6.2,6.4,6.6,6.95]],
  [239.48,[4.5,4.7,4.9,5.1,5.3,5.5,5.7,5.9,6.1,6.3,6.5]],
  [239.56,[4.1,4.7,4.8,5.0,5.2,5.4,5.6,5.8,6.0,6.2,6.4,6.7,7.0]],
];
const obsX: Col[] = [
  [239.64,[5.5,5.7,5.9,6.1,6.3,6.5,6.7,6.9,7.1,7.3,7.5,7.7,7.9,8.1,8.3,8.6,8.9]],
  [239.72,[5.3,5.6,5.8,6.0,6.2,6.4,6.6,6.8,7.0,7.2,7.4,7.6,7.8,8.0,8.3,8.5,8.7,9.1]],
  [239.81,[4.7,5.0,5.4,5.6,5.8,6.0,6.2,6.4,6.6,6.8,7.0,7.2,7.4,7.6,7.8,8.1,8.4,8.8]],
  [239.9,[4.9,5.4,5.6,5.8,6.0,6.3,6.5,6.7,6.9,7.1,7.3,7.5,7.7,7.9,8.2,8.5,8.9,9.1]],
  [239.98,[4.8,5.2,5.5,5.7,5.9,6.1,6.3,6.5,6.7,6.9,7.1,7.3,7.5,7.8,8.1,8.4,8.8,9.4]],
  [240.06,[4.7,4.9,5.1,5.3,5.6,5.8,6.0,6.2,6.4,6.6,6.8,7.0,7.2,7.5,7.8,8.3,8.7,9.2]],
];
const coreWX: Col[] = [
  [239.26,[4.5,4.7,4.9,5.1,5.3,5.5,5.7,5.9,6.1]],[239.34,[4.6,4.8,5.0,5.2,5.4,5.6,5.8,6.0,6.2]],[239.43,[4.5,4.7,4.9,5.1,5.3,5.5,5.7,5.9,6.1,6.3]],[239.52,[4.6,4.8,5.0,5.2,5.4,5.6,5.8,6.0,6.2,6.4]],
  [239.6,[5.0,5.3,5.5,5.7,5.9,6.1,6.3,6.5,6.7,7.0,7.3]],[239.68,[5.7,5.9,6.1,6.3,6.5,6.7,6.9,7.1,7.3,7.5,7.7,7.9,8.2]],[239.77,[5.7,5.9,6.1,6.3,6.5,6.7,6.9,7.1,7.3,7.5,7.7,7.9,8.2]],
  [239.85,[5.7,5.9,6.1,6.3,6.5,6.7,6.9,7.1,7.3,7.5,7.7,8.0]],[239.94,[5.7,5.9,6.2,6.4,6.6,6.8,7.0,7.2,7.4,7.6,7.8,8.0,8.3]],[240.02,[5.4,5.6,5.8,6.0,6.2,6.4,6.6,6.8,7.0,7.2,7.4,7.6,8.0]],
];
const obsY: Col[] = [
  [241.02,[4.6,4.9,5.1,5.3,5.5,5.7,5.9,6.1,6.3,6.5,6.7,6.9,7.2,7.5,7.9,8.4]],
  [241.1,[4.5,4.7,5.0,5.2,5.4,5.6,5.8,6.0,6.2,6.4,6.6,6.8,7.0,7.3,7.6,8.4]],
  [241.19,[4.4,4.6,4.9,5.1,5.3,5.5,5.7,5.9,6.1,6.3,6.5,6.7,6.9,7.1,7.5,7.8]],
  [241.28,[4.5,4.7,5.0,5.2,5.4,5.6,5.8,6.0,6.2,6.4,6.6,6.8,7.0,7.3,7.7,8.3]],
  [241.37,[4.4,4.7,4.9,5.1,5.3,5.5,5.7,5.9,6.1,6.3,6.5,6.8,7.2,7.5,7.8,8.2]],
  [241.46,[4.6,4.8,5.0,5.2,5.4,5.6,5.8,6.0,6.2,6.4,6.7,7.0,7.3,7.6,7.9,8.35]],
  [241.55,[4.2,4.6,4.9,5.2,5.4,5.6,5.8,6.0,6.2,6.5,6.7,6.9,7.1,7.4,7.7,8.0,8.2]],
];
const obsZ: Col[] = [
  [241.63,[5.3,5.6,5.8,6.0,6.2,6.4,6.6,6.8,7.0,7.2,7.4,7.6,7.9,8.2,8.6,9.0,9.55,9.85]],
  [241.71,[4.5,5.1,5.5,5.7,5.9,6.1,6.3,6.5,6.7,6.9,7.1,7.3,7.5,7.7,8.0,8.3,8.7,9.1,9.3]],
  [241.8,[4.9,5.3,5.5,5.7,5.9,6.1,6.3,6.5,6.7,6.9,7.1,7.3,7.6,7.8,8.1,8.4,8.8,9.2]],
  [241.88,[5.2,5.4,5.6,5.8,6.0,6.2,6.4,6.6,6.8,7.0,7.2,7.4,7.7,8.0,8.4,8.7,9.1]],
  [241.96,[4.9,5.1,5.3,5.5,5.7,5.9,6.1,6.3,6.6,6.9,7.2,7.4,7.8,8.2,8.6]],
];
const coreYZ: Col[] = [
  [241.06,[4.7,5.0,5.2,5.4,5.6,5.8,6.0,6.2,6.4,6.6,6.8,7.0]],[241.15,[4.6,4.8,5.0,5.2,5.4,5.6,5.8,6.0,6.2,6.4,6.6,6.8,7.1]],[241.24,[4.6,4.8,5.0,5.2,5.4,5.6,5.8,6.0,6.2,6.4,6.6,6.8]],
  [241.33,[4.6,4.8,5.0,5.2,5.4,5.6,5.8,6.0,6.2,6.4,6.6,6.9]],[241.42,[4.7,4.9,5.1,5.3,5.5,5.7,5.9,6.1,6.3,6.5,6.9]],[241.5,[4.7,4.9,5.1,5.3,5.5,5.7,5.9,6.1,6.3,6.6,6.8]],
  [241.59,[5.0,5.3,5.5,5.7,5.9,6.1,6.3,6.6,6.8,7.0,7.2]],[241.67,[5.4,5.7,5.9,6.1,6.3,6.5,6.7,6.9,7.1,7.3,7.5,7.8,8.1,8.5]],[241.75,[5.4,5.6,5.8,6.0,6.2,6.4,6.6,6.8,7.0,7.2,7.4,7.6,7.9,8.2,8.5]],
  [241.84,[5.4,5.6,5.8,6.0,6.2,6.4,6.6,6.8,7.0,7.2,7.4,7.6,7.9,8.3]],[241.92,[5.3,5.5,5.7,5.9,6.1,6.3,6.5,6.7,6.9,7.1,7.3,7.6]],[242.0,[5.0,5.2,5.4,5.6,5.8,6.0,6.2,6.4,6.6]],
];
const obsAA: Col[] = [
  [242.04,[4.4,4.6,4.8,5.0,5.2,5.4,5.6,5.8,6.0,6.2,6.5]],
  [242.12,[3.87,4.3,4.5,4.7,4.9,5.1,5.3,5.5,5.7,5.9,6.1,6.4,6.6]],
  [242.2,[4.4,4.6,4.8,5.0,5.2,5.4,5.6,5.8,6.0,6.2,6.4]],
  [242.28,[4.3,4.5,4.7,4.9,5.1,5.3,5.5,5.7,5.9,6.1,6.3,6.6]],
  [242.37,[4.4,4.6,4.8,5.0,5.2,5.4,5.6,5.8,6.0,6.2,6.5,6.7]],
  [242.45,[3.6,3.75,3.85,4.5,4.7,4.9,5.1,5.3,5.5,5.7,5.9,6.1,6.4,6.7,7.0]],
];
const coreAA: Col[] = [
  [242.08,[4.5,4.7,4.9,5.1,5.3,5.5,5.7,5.9,6.1]],[242.16,[4.6,4.8,5.0,5.2,5.4,5.6,5.8,6.0,6.2]],[242.24,[4.5,4.7,4.9,5.1,5.3,5.5,5.7,5.9,6.1,6.3]],[242.33,[4.6,4.8,5.0,5.2,5.4,5.6,5.8,6.0,6.2]],[242.41,[4.5,4.7,4.9,5.1,5.3,5.5,5.7,5.9,6.1,6.3]],
];
const lowPoints: Col[] = [
  [215.25,[1.3,1.4,1.5,1.6,1.7,2.17,2.5]],[215.47,[3.05,3.35,3.6,3.7]],
  [216.0,[1.6,1.7,1.8,1.9,2.05,2.7,3.2,3.3,3.63]],[216.3,[3.08,3.45,3.63]],[216.42,[3.8,3.98]],
  [217.68,[1.35,1.7,2.1,2.2,2.25]],[218.3,[2.9,3.1,3.2,4.18]],[218.35,[0.25,0.35,0.45]],
  [219.24,[1.05,1.15,1.25]],[220.18,[1.75,1.95,2.05,2.2,2.35]],
  [222.47,[1.65,1.75,1.9,2.23]],[223.15,[1.3,1.35,1.4]],[223.19,[1.25,1.35,1.45]],[223.23,[1.22,1.3,1.4]],[223.27,[1.25,1.35,1.43]],[223.31,[1.3,1.38]],
  [223.63,[1.45,1.6,1.8,2.0]],[223.69,[1.25,1.4,1.65,1.9,2.05]],[223.74,[1.3,1.5,1.75,1.95,2.26]],[223.79,[1.3,1.55,1.8]],
  [223.8,[0.25,0.4]],[223.16,[0.05]],[223.41,[0.05]],[223.65,[0.05]],
  [225.44,[2.9,3.08]],[225.62,[3.9]],[225.7,[0.1,0.25,1.2,1.35,1.6]],[225.74,[1.15,1.3,1.5,1.7,1.9,2.1]],[225.78,[1.2,1.4,1.6,1.8,2.0,2.2]],[225.81,[1.3,1.6,1.85,2.2]],
  [225.83,[0.05,0.45,0.6,0.75,1.05]],[226.03,[0.5,0.7,0.8]],[226.09,[0.65,0.72,0.82]],[226.15,[0.68,0.75,0.82]],[226.22,[0.68,0.75,0.82]],[226.28,[0.7,0.8]],[226.34,[0.55,0.7,2.4,2.5]],
  [227.17,[0.95,1.05,1.38]],[227.73,[1.7,1.8,1.95,2.05]],
  [228.03,[0.05,0.68,0.78,0.85]],[228.09,[0.65,0.72,0.82]],[228.16,[0.65,0.75,0.85]],[228.23,[0.68,0.78,0.85]],[228.3,[0.7,0.8,0.25]],
  [228.33,[2.44,3.22,3.6,3.87]],[228.85,[3.1,3.5,3.9,3.98]],[229.1,[4.25]],
  [230.7,[1.45,1.7,1.85,2.0,3.9,4.05]],[231.05,[1.6,2.1,2.3,2.5]],[231.2,[1.15,1.35,1.75,2.0,2.5]],[231.76,[2.03,2.28]],
  [232.03,[0.62,0.72]],[232.09,[0.55,0.68,0.78]],[232.15,[0.62,0.72,0.8]],[232.22,[0.6,0.7,0.78]],[232.28,[0.55,0.65,0.75]],[232.02,[0.45]],
  [233.0,[3.1,3.25,3.4,3.5]],[233.47,[2.9,3.05,3.35]],
  [234.25,[2.6,2.85,2.9,3.2]],[234.35,[1.65,1.75,1.85,2.3,2.4,3.55]],[234.72,[2.3,2.5,2.7,2.85]],[235.1,[2.6,2.75,2.9,3.05]],
  [235.68,[2.25,2.7,2.85,3.05,3.3]],[236.2,[2.4,2.95,3.7,3.85]],[236.85,[0.88,1.05,1.3,1.85,2.05,2.2,2.45,2.76]],
  [239.13,[0.35,0.55,0.75,0.95,1.1,1.25]],[239.17,[0.4,0.6,0.8,1.0,1.15,1.3]],[239.21,[0.35,0.6,0.85,1.1,1.35]],
  [239.2,[2.65,3.25,3.35]],[239.58,[2.8,3.0,3.15,3.35]],[240.07,[1.7,2.5,2.65,2.75]],
  [241.0,[1.05,1.45,1.6]],[241.65,[1.2,1.4,1.75,1.9,2.75,3.95,4.05]],[242.03,[1.6,1.75,1.9]],
];

const observations: Col[][] = [obsA,coreA,obsB,coreB,obsC,coreC,obsD,coreD,obsE,coreE,obsF,obsG,coreFG,obsH,obsI,coreHI,obsJ,coreJ,obsK,obsL,coreKL,obsM,coreM,obsN,coreN,obsO,obsP,coreOP,obsQ,coreQ,obsR,coreR,obsS,coreS,obsT,coreT,obsU,obsV,coreUV,obsW,obsX,coreWX,obsY,obsZ,coreYZ,obsAA,coreAA,lowPoints];

export default function App() {
  const ref = useRef<HTMLCanvasElement>(null);
  useEffect(() => {
    document.body.style.margin = "0";
    const marker = document.createElement("canvas");
    marker.width = 6;
    marker.height = 6;
    const mc = marker.getContext("2d")!;
    mc.fillStyle = "#0000ff";
    mc.beginPath();
    mc.arc(3, 3, 2, 0, Math.PI * 2);
    mc.fill();

    const points = observations.flat().flatMap(([x, ys]) => ys.map((y) => ({ x, y })));
    const plugin = {
      id: "frameAndLegend",
      beforeLayout(chart: any) {
        const lg = chart.legend;
        if (lg) lg._layers = () => [{ z: 1, draw: () => lg.draw() }];
      },
      afterLayout(chart: any) {
        const lg = chart.legend;
        if (!lg) return;
        lg.left = 266.5;
        lg.top = 72;
        lg.right = 1000;
        lg.bottom = 200;
      },
      afterDatasetsDraw(chart: any) {
        const c = chart.ctx;
        c.save();
        c.beginPath();
        c.roundRect(263.5, 62.5, 390, 44, 5);
        c.fillStyle = "rgba(255,255,255,0.8)";
        c.fill();
        c.lineWidth = 1.5;
        c.strokeStyle = "rgba(204,204,204,0.8)";
        c.stroke();
        c.restore();
      },
      afterDraw(chart: any) {
        const { left, top, right, bottom } = chart.chartArea;
        const c = chart.ctx;
        c.save();
        c.strokeStyle = "#000";
        c.lineWidth = 1.8;
        c.strokeRect(left, top, right - left, bottom - top);
        c.restore();
      },
    };

    const font = { family: "'DejaVu Sans'", size: 21 };
    const chart = new Chart(ref.current!, {
      type: "scatter",
      data: {
        datasets: [
          { label: seriesLabel, data: points, backgroundColor: "#0000ff", borderWidth: 0, pointRadius: 2, order: 1 } as any,
          {
            label: "Fit",
            data: fitX.map((x, i) => ({ x, y: fitY[i] })),
            showLine: true,
            borderColor: "#ff0000",
            borderWidth: 3,
            pointRadius: 0,
            order: 0,
          } as any,
        ],
      },
      options: {
        animation: false,
        responsive: false,
        devicePixelRatio: 1,
        layout: { padding: { left: 160, right: 200, top: 50, bottom: 0 } },
        plugins: {
          tooltip: { enabled: false },
          legend: {
            position: "chartArea" as any,
            align: "start",
            labels: {
              filter: (item: any) => item.datasetIndex === 0,
              usePointStyle: true,
              pointStyle: marker as any,
              pointStyleWidth: 63,
              boxHeight: 6,
              padding: 0,
              color: "#000",
              font: { family: "'DejaVu Sans'", size: 25 },
            },
          },
        },
        scales: {
          x: {
            type: "linear",
            min: 211.45,
            max: 245.55,
            afterBuildTicks: (s: any) => { s.ticks = xTicks.map((value) => ({ value })); },
            afterFit: (s: any) => { s.height = 46; },
            grid: { drawOnChartArea: false, drawTicks: true, tickLength: 9, tickWidth: 2, tickColor: "#000" },
            border: { color: "#000", width: 1.8 },
            ticks: { color: "#000", font, autoSkip: false, maxRotation: 0, padding: 4 },
          },
          y: {
            type: "linear",
            min: 0,
            max: 11.25,
            afterBuildTicks: (s: any) => { s.ticks = yTicks.map((value) => ({ value })); },
            afterFit: (s: any) => { s.width = 90; },
            grid: { drawOnChartArea: false, drawTicks: true, tickLength: 9, tickWidth: 2, tickColor: "#000" },
            border: { color: "#000", width: 1.8 },
            ticks: { color: "#000", font, autoSkip: false, padding: 4, labelOffset: 1.5 },
            title: { display: true, text: yTitle, color: "#000", font: { family: "'DejaVu Sans'", size: 18 }, padding: { top: 8, bottom: 0 } },
          },
        },
      },
      plugins: [plugin as any],
    });
    return () => chart.destroy();
  }, []);
  return <canvas ref={ref} width={2000} height={416} style={{ display: "block" }} />;
}
